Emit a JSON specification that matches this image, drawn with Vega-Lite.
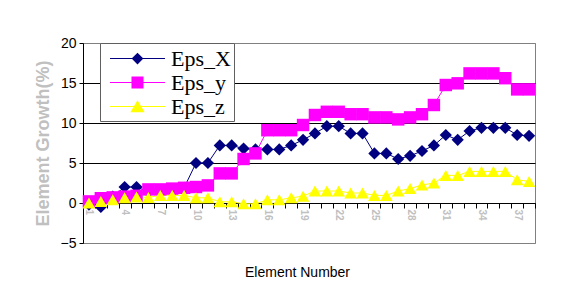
{
  "$schema": "https://vega.github.io/schema/vega-lite/v6.json",
  "width": 452,
  "height": 200,
  "autosize": {"type": "none"},
  "padding": {"left": 83, "top": 43, "right": 50, "bottom": 57},
  "background": "white",
  "config": {
    "view": {"stroke": "#808080", "strokeWidth": 1},
    "font": "Liberation Sans",
    "legend": {"labelFont": "Liberation Serif", "labelFontSize": 22, "labelColor": "black"}
  },
  "data": {
    "values": [
      {"n": 1, "series": "Eps_X", "v": -0.2},
      {"n": 2, "series": "Eps_X", "v": -0.5},
      {"n": 3, "series": "Eps_X", "v": 0.8},
      {"n": 4, "series": "Eps_X", "v": 2.0},
      {"n": 5, "series": "Eps_X", "v": 2.0},
      {"n": 6, "series": "Eps_X", "v": 1.4},
      {"n": 7, "series": "Eps_X", "v": 1.6},
      {"n": 8, "series": "Eps_X", "v": 1.7},
      {"n": 9, "series": "Eps_X", "v": 1.9},
      {"n": 10, "series": "Eps_X", "v": 5.0},
      {"n": 11, "series": "Eps_X", "v": 5.0},
      {"n": 12, "series": "Eps_X", "v": 7.2},
      {"n": 13, "series": "Eps_X", "v": 7.2},
      {"n": 14, "series": "Eps_X", "v": 6.8},
      {"n": 15, "series": "Eps_X", "v": 6.7},
      {"n": 16, "series": "Eps_X", "v": 6.7},
      {"n": 17, "series": "Eps_X", "v": 6.7},
      {"n": 18, "series": "Eps_X", "v": 7.2},
      {"n": 19, "series": "Eps_X", "v": 7.9},
      {"n": 20, "series": "Eps_X", "v": 8.7},
      {"n": 21, "series": "Eps_X", "v": 9.6},
      {"n": 22, "series": "Eps_X", "v": 9.6},
      {"n": 23, "series": "Eps_X", "v": 8.7},
      {"n": 24, "series": "Eps_X", "v": 8.7},
      {"n": 25, "series": "Eps_X", "v": 6.2},
      {"n": 26, "series": "Eps_X", "v": 6.2},
      {"n": 27, "series": "Eps_X", "v": 5.5},
      {"n": 28, "series": "Eps_X", "v": 5.9},
      {"n": 29, "series": "Eps_X", "v": 6.5},
      {"n": 30, "series": "Eps_X", "v": 7.2},
      {"n": 31, "series": "Eps_X", "v": 8.5},
      {"n": 32, "series": "Eps_X", "v": 7.9},
      {"n": 33, "series": "Eps_X", "v": 9.0},
      {"n": 34, "series": "Eps_X", "v": 9.4},
      {"n": 35, "series": "Eps_X", "v": 9.4},
      {"n": 36, "series": "Eps_X", "v": 9.4},
      {"n": 37, "series": "Eps_X", "v": 8.5},
      {"n": 38, "series": "Eps_X", "v": 8.4},
      {"n": 1, "series": "Eps_y", "v": 0.2},
      {"n": 2, "series": "Eps_y", "v": 0.6},
      {"n": 3, "series": "Eps_y", "v": 0.7},
      {"n": 4, "series": "Eps_y", "v": 0.8},
      {"n": 5, "series": "Eps_y", "v": 0.9},
      {"n": 6, "series": "Eps_y", "v": 1.7},
      {"n": 7, "series": "Eps_y", "v": 1.7},
      {"n": 8, "series": "Eps_y", "v": 1.8},
      {"n": 9, "series": "Eps_y", "v": 1.9},
      {"n": 10, "series": "Eps_y", "v": 2.0},
      {"n": 11, "series": "Eps_y", "v": 2.2},
      {"n": 12, "series": "Eps_y", "v": 3.7},
      {"n": 13, "series": "Eps_y", "v": 3.7},
      {"n": 14, "series": "Eps_y", "v": 5.5},
      {"n": 15, "series": "Eps_y", "v": 6.2},
      {"n": 16, "series": "Eps_y", "v": 9.1},
      {"n": 17, "series": "Eps_y", "v": 9.1},
      {"n": 18, "series": "Eps_y", "v": 9.1},
      {"n": 19, "series": "Eps_y", "v": 9.75},
      {"n": 20, "series": "Eps_y", "v": 11.0},
      {"n": 21, "series": "Eps_y", "v": 11.4},
      {"n": 22, "series": "Eps_y", "v": 11.4},
      {"n": 23, "series": "Eps_y", "v": 11.1},
      {"n": 24, "series": "Eps_y", "v": 11.1},
      {"n": 25, "series": "Eps_y", "v": 10.7},
      {"n": 26, "series": "Eps_y", "v": 10.7},
      {"n": 27, "series": "Eps_y", "v": 10.45},
      {"n": 28, "series": "Eps_y", "v": 10.7},
      {"n": 29, "series": "Eps_y", "v": 11.1},
      {"n": 30, "series": "Eps_y", "v": 12.25},
      {"n": 31, "series": "Eps_y", "v": 14.75},
      {"n": 32, "series": "Eps_y", "v": 14.96},
      {"n": 33, "series": "Eps_y", "v": 16.2},
      {"n": 34, "series": "Eps_y", "v": 16.2},
      {"n": 35, "series": "Eps_y", "v": 16.2},
      {"n": 36, "series": "Eps_y", "v": 15.6},
      {"n": 37, "series": "Eps_y", "v": 14.2},
      {"n": 38, "series": "Eps_y", "v": 14.2},
      {"n": 1, "series": "Eps_z", "v": 0.0},
      {"n": 2, "series": "Eps_z", "v": 0.2},
      {"n": 3, "series": "Eps_z", "v": 0.4},
      {"n": 4, "series": "Eps_z", "v": 0.65},
      {"n": 5, "series": "Eps_z", "v": 0.75},
      {"n": 6, "series": "Eps_z", "v": 0.7},
      {"n": 7, "series": "Eps_z", "v": 0.95},
      {"n": 8, "series": "Eps_z", "v": 0.95},
      {"n": 9, "series": "Eps_z", "v": 0.95},
      {"n": 10, "series": "Eps_z", "v": 0.65},
      {"n": 11, "series": "Eps_z", "v": 0.65},
      {"n": 12, "series": "Eps_z", "v": 0.15},
      {"n": 13, "series": "Eps_z", "v": 0.15},
      {"n": 14, "series": "Eps_z", "v": -0.1},
      {"n": 15, "series": "Eps_z", "v": -0.1},
      {"n": 16, "series": "Eps_z", "v": 0.4},
      {"n": 17, "series": "Eps_z", "v": 0.4},
      {"n": 18, "series": "Eps_z", "v": 0.65},
      {"n": 19, "series": "Eps_z", "v": 0.85},
      {"n": 20, "series": "Eps_z", "v": 1.5},
      {"n": 21, "series": "Eps_z", "v": 1.5},
      {"n": 22, "series": "Eps_z", "v": 1.5},
      {"n": 23, "series": "Eps_z", "v": 1.25},
      {"n": 24, "series": "Eps_z", "v": 1.25},
      {"n": 25, "series": "Eps_z", "v": 0.95},
      {"n": 26, "series": "Eps_z", "v": 0.95},
      {"n": 27, "series": "Eps_z", "v": 1.5},
      {"n": 28, "series": "Eps_z", "v": 1.8},
      {"n": 29, "series": "Eps_z", "v": 2.25},
      {"n": 30, "series": "Eps_z", "v": 2.5},
      {"n": 31, "series": "Eps_z", "v": 3.45},
      {"n": 32, "series": "Eps_z", "v": 3.45},
      {"n": 33, "series": "Eps_z", "v": 3.95},
      {"n": 34, "series": "Eps_z", "v": 3.95},
      {"n": 35, "series": "Eps_z", "v": 3.95},
      {"n": 36, "series": "Eps_z", "v": 3.95},
      {"n": 37, "series": "Eps_z", "v": 2.9},
      {"n": 38, "series": "Eps_z", "v": 2.7}
    ]
  },
  "encoding": {
    "y": {
      "field": "v",
      "type": "quantitative",
      "scale": {"domain": [-5, 20], "nice": false, "zero": false},
      "axis": {
        "values": [-5, 0, 5, 10, 15, 20],
        "tickSize": 4,
        "tickColor": "black",
        "domainColor": "black",
        "labelFontSize": 14,
        "labelColor": "black",
        "labelPadding": 3,
        "labelFlush": false,
        "grid": true,
        "gridColor": {"condition": {"test": "datum.value === 20 || datum.value === -5", "value": "#808080"}, "value": "black"},
        "gridOpacity": 1,
        "title": "Element Growth(%)",
        "titleColor": "#c0c0c0",
        "titleFontSize": 18,
        "titleFontWeight": "bold",
        "titlePadding": 8
      }
    }
  },
  "layer": [
    {
      "mark": {"type": "line", "strokeWidth": 1},
      "encoding": {
        "x": {
          "field": "n",
          "type": "quantitative",
          "scale": {"domain": [0.5, 38.5], "nice": false, "zero": false},
          "axis": {
            "orient": "bottom",
            "values": [0.5, 1.5, 2.5, 3.5, 4.5, 5.5, 6.5, 7.5, 8.5, 9.5, 10.5, 11.5, 12.5, 13.5, 14.5, 15.5, 16.5, 17.5, 18.5, 19.5, 20.5, 21.5, 22.5, 23.5, 24.5, 25.5, 26.5, 27.5, 28.5, 29.5, 30.5, 31.5, 32.5, 33.5, 34.5, 35.5, 36.5, 37.5, 38.5],
            "labels": false,
            "ticks": true,
            "tickSize": 5,
            "tickColor": "black",
            "domainColor": "black",
            "grid": false,
            "offset": -40,
            "title": null
          }
        },
        "color": {
          "field": "series",
          "type": "nominal",
          "scale": {"domain": ["Eps_X", "Eps_y", "Eps_z"], "range": ["#000080", "#FF00FF", "#FFFF00"]},
          "legend": null
        }
      }
    },
    {
      "mark": {"type": "point", "filled": true, "opacity": 1},
      "encoding": {
        "x": {
          "field": "n",
          "type": "quantitative",
          "scale": {"domain": [0.5, 38.5], "nice": false, "zero": false},
          "axis": {
            "orient": "bottom",
            "values": [1, 4, 7, 10, 13, 16, 19, 22, 25, 28, 31, 34, 37],
            "ticks": false,
            "domain": false,
            "grid": false,
            "labelAngle": 90,
            "labelColor": "#c0c0c0",
            "labelFontSize": 10,
            "labelFontWeight": "bold",
            "labelPadding": 6,
            "labelFlush": false,
            "labelOverlap": false,
            "offset": -40,
            "title": "Element Number",
            "titleFontSize": 14,
            "titleFontWeight": "normal",
            "titleColor": "black",
            "titlePadding": 45,
            "titleX": 214
          }
        },
        "color": {
          "field": "series",
          "type": "nominal",
          "scale": {"domain": ["Eps_X", "Eps_y", "Eps_z"], "range": ["#000080", "#FF00FF", "#FFFF00"]},
          "legend": null
        },
        "shape": {
          "field": "series",
          "type": "nominal",
          "scale": {"domain": ["Eps_X", "Eps_y", "Eps_z"], "range": ["diamond", "square", "triangle-up"]},
          "legend": null
        },
        "size": {
          "field": "series",
          "type": "nominal",
          "scale": {"domain": ["Eps_X", "Eps_y", "Eps_z"], "range": [150, 160, 190]},
          "legend": null
        }
      }
    },
    {
      "mark": {"type": "point", "filled": true, "opacity": 0},
      "encoding": {
        "x": {
          "field": "n",
          "type": "quantitative",
          "scale": {"domain": [0.5, 38.5], "nice": false, "zero": false},
          "axis": null
        },
        "color": {
          "field": "series",
          "type": "nominal",
          "scale": {"domain": ["Eps_X", "Eps_y", "Eps_z"], "range": ["#000080", "#FF00FF", "#FFFF00"]},
          "legend": {
            "orient": "none",
            "legendX": 17,
            "legendY": 0,
            "title": null,
            "padding": 3,
            "fillColor": "white",
            "strokeColor": "#606060",
            "labelFont": "Liberation Serif",
            "labelFontSize": 22,
            "labelColor": "black",
            "symbolSize": 625,
            "symbolOffset": 22,
            "labelOffset": 21,
            "rowPadding": 0,
            "symbolOpacity": 1,
            "symbolStrokeWidth": 0
          }
        },
        "shape": {
          "field": "series",
          "type": "nominal",
          "scale": {
            "domain": ["Eps_X", "Eps_y", "Eps_z"],
            "range": [
              "M-2.2,-0.04H2.2V0.04H-2.2Z M0,-0.47L0.47,0L0,0.47L-0.47,0Z",
              "M-2.2,-0.04H2.2V0.04H-2.2Z M-0.48,-0.48H0.48V0.48H-0.48Z",
              "M-2.2,-0.04H2.2V0.04H-2.2Z M0,-0.5L0.57,0.46L-0.57,0.46Z"
            ]
          },
          "legend": {
            "orient": "none",
            "legendX": 17,
            "legendY": 0,
            "title": null,
            "padding": 3,
            "fillColor": "white",
            "strokeColor": "#606060",
            "labelFont": "Liberation Serif",
            "labelFontSize": 22,
            "labelColor": "black",
            "symbolSize": 625,
            "symbolOffset": 22,
            "labelOffset": 21,
            "rowPadding": 0,
            "symbolOpacity": 1,
            "symbolStrokeWidth": 0
          }
        }
      }
    }
  ],
  "resolve": {"axis": {"x": "independent"}, "scale": {"color": "independent", "shape": "independent"}}
}
